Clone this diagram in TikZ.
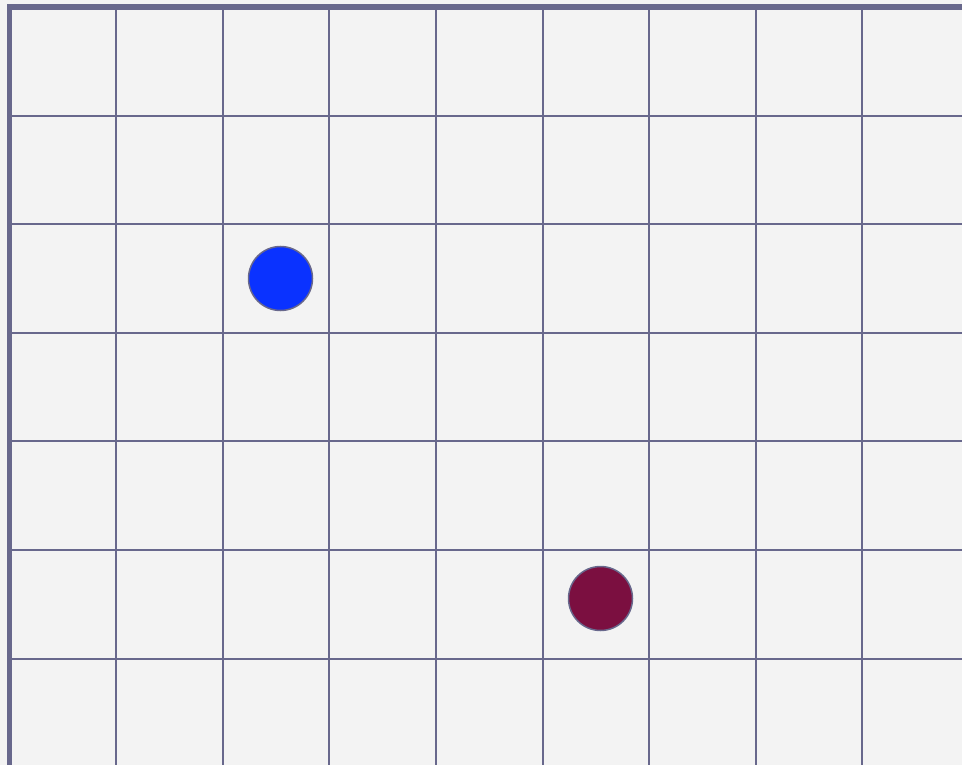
\documentclass[tikz,border=0pt]{standalone}
\definecolor{gridc}{RGB}{104,104,140}
\definecolor{bgc}{RGB}{243,243,243}
\definecolor{bluec}{RGB}{10,50,255}
\definecolor{maroonc}{RGB}{123,15,64}
\begin{document}
\begin{tikzpicture}[x=1pt,y=-1pt,
  gridline/.style={draw=gridc,line width=2pt},
  borderline/.style={draw=gridc,line width=5.5pt},
  token/.style={circle,draw=gridc,line width=1.5pt,minimum size=64pt,inner sep=0pt}]
\fill[bgc] (0,0) rectangle (962,765);
\useasboundingbox (0,0) rectangle (962,765);
\foreach \i in {1,...,8} {
  \draw[gridline] ({9.5+106.6*\i},7) -- ({9.5+106.6*\i},765);
}
\foreach \j in {1,...,6} {
  \draw[gridline] (9.5,{7+108.6*\j}) -- (962,{7+108.6*\j});
}
\draw[borderline] (9.5,765) -- (9.5,7) -- (962,7);
\node[token,fill=bluec] (blue) at (280.5,278.5) {};
\node[token,fill=maroonc] (maroon) at (600.5,598.5) {};
\end{tikzpicture}
\end{document}
